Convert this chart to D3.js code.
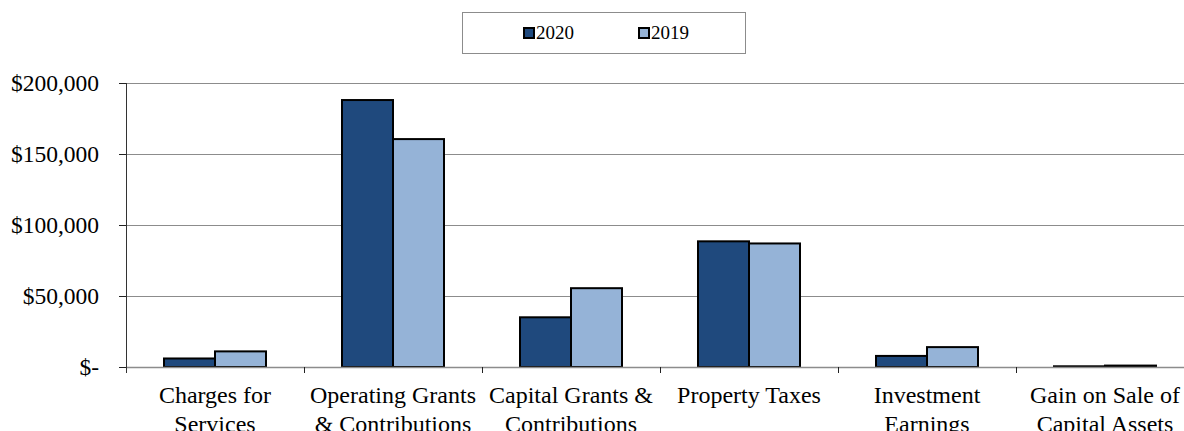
<!DOCTYPE html>
<html>
<head>
<meta charset="utf-8">
<script src="https://cdn.jsdelivr.net/npm/d3@7"></script>
<style>
  body { margin: 0; background: #fff; }
  svg { display: block; }
  svg text { font-family: "Liberation Serif", "DejaVu Serif", serif; }
</style>
</head>
<body>
<div id="chart"></div>
<script>
// data
var categories = [
    ['Charges for', 'Services'],
    ['Operating Grants', '& Contributions'],
    ['Capital Grants &', 'Contributions'],
    ['Property Taxes'],
    ['Investment', 'Earnings'],
    ['Gain on Sale of', 'Capital Assets']
];
var years = ['2020', '2019'];
var values2020 = [6000, 188000, 35000, 88500, 7800, 500];
var values2019 = [11000, 160500, 55500, 87000, 14000, 1000];
var yTicks = [0, 50000, 100000, 150000, 200000];

var colors = { '2020': '#1f497d', '2019': '#95b3d7' };

var width = 1184, height = 431;
var plotLeft = 126, plotTop = 83, plotBottom = 367;
var band = 178;

var svg = d3.select('#chart').append('svg')
    .attr('width', width)
    .attr('height', height);

var x = d3.scaleBand()
    .domain(d3.range(categories.length))
    .range([plotLeft, plotLeft + band * categories.length])
    .padding(0);

var x1 = d3.scaleBand()
    .domain(years)
    .range([38, 140]);

var y = d3.scaleLinear()
    .domain([0, 200000])
    .range([plotBottom, plotTop]);

// gridlines
svg.append('g')
    .selectAll('line')
    .data(yTicks.slice(1))
    .enter().append('line')
    .attr('x1', plotLeft)
    .attr('x2', width)
    .attr('y1', function(d) { return y(d) + 0.5; })
    .attr('y2', function(d) { return y(d) + 0.5; })
    .attr('stroke', '#8c8c8c')
    .attr('stroke-width', 1);

// bars
var rows = categories.map(function(c, i) {
    return { i: i, vals: [{ k: '2020', v: values2020[i] }, { k: '2019', v: values2019[i] }] };
});

svg.append('g')
    .selectAll('g')
    .data(rows)
    .enter().append('g')
    .attr('transform', function(d) { return 'translate(' + x(d.i) + ',0)'; })
    .selectAll('rect')
    .data(function(d) { return d.vals; })
    .enter().append('rect')
    .attr('x', function(d) { return x1(d.k); })
    .attr('width', x1.bandwidth())
    .attr('y', function(d) { return y(d.v); })
    .attr('height', function(d) { return y(0) - y(d.v); })
    .attr('fill', function(d) { return colors[d.k]; })
    .attr('stroke', '#000')
    .attr('stroke-width', 2);

// x axis
var xAxis = svg.append('g');
xAxis.append('line')
    .attr('x1', plotLeft).attr('x2', width)
    .attr('y1', plotBottom + 0.5).attr('y2', plotBottom + 0.5)
    .attr('stroke', '#8c8c8c').attr('stroke-width', 1.5);
xAxis.selectAll('line.tick')
    .data(d3.range(categories.length + 1))
    .enter().append('line')
    .attr('class', 'tick')
    .attr('x1', function(d) { return plotLeft + d * band + 0.5; })
    .attr('x2', function(d) { return plotLeft + d * band + 0.5; })
    .attr('y1', plotBottom)
    .attr('y2', plotBottom + 6)
    .attr('stroke', '#222');

var labels = xAxis.selectAll('text')
    .data(categories)
    .enter().append('text')
    .attr('x', function(d, i) { return x(i) + x.bandwidth() / 2; })
    .attr('y', 403)
    .attr('text-anchor', 'middle')
    .attr('font-size', 24)
    .attr('fill', '#000');
labels.selectAll('tspan')
    .data(function(d) { return d; })
    .enter().append('tspan')
    .attr('x', function() { return d3.select(this.parentNode).attr('x'); })
    .attr('dy', function(d, i) { return i ? 29 : 0; })
    .text(function(d) { return d; });

// y axis
var yAxis = svg.append('g');
yAxis.append('line')
    .attr('x1', plotLeft + 0.5).attr('x2', plotLeft + 0.5)
    .attr('y1', plotTop).attr('y2', plotBottom + 6)
    .attr('stroke', '#333').attr('stroke-width', 1);
yAxis.selectAll('line.tick')
    .data(yTicks)
    .enter().append('line')
    .attr('class', 'tick')
    .attr('x1', plotLeft - 7).attr('x2', plotLeft)
    .attr('y1', function(d) { return y(d) + 0.5; })
    .attr('y2', function(d) { return y(d) + 0.5; })
    .attr('stroke', '#222');
yAxis.selectAll('text')
    .data(yTicks)
    .enter().append('text')
    .attr('x', 99)
    .attr('y', function(d) { return y(d) + 8; })
    .attr('text-anchor', 'end')
    .attr('font-size', 23.5)
    .attr('fill', '#000')
    .text(function(d) { return d === 0 ? '$-' : '$' + d3.format(',')(d); });

// legend
var legend = svg.append('g');
legend.append('rect')
    .attr('x', 462.5).attr('y', 12.5)
    .attr('width', 283).attr('height', 41)
    .attr('fill', '#fff')
    .attr('stroke', '#8c8c8c');
var lx = { '2020': 524, '2019': 639 };
years.forEach(function(k) {
    legend.append('rect')
        .attr('x', lx[k]).attr('y', 28)
        .attr('width', 10).attr('height', 10)
        .attr('fill', colors[k])
        .attr('stroke', '#000')
        .attr('stroke-width', 2);
    legend.append('text')
        .attr('x', lx[k] + 12).attr('y', 39)
        .attr('font-size', 19)
        .attr('fill', '#000')
        .text(k);
});
</script>
</body>
</html>
